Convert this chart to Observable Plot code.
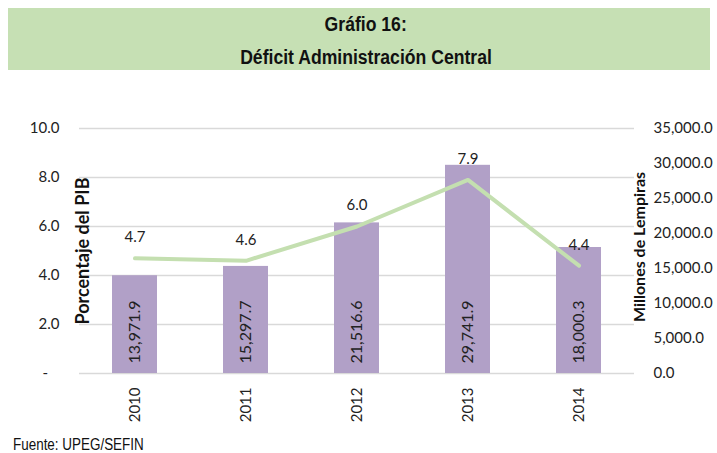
<!DOCTYPE html>
<html>
<head>
<meta charset="utf-8">
<script src="https://cdn.jsdelivr.net/npm/d3@7"></script>
<script src="https://cdn.jsdelivr.net/npm/@observablehq/plot@0.6"></script>
<style>
  body { margin: 0; background: #fff; }
  #wrap { position: relative; width: 717px; height: 453px; overflow: hidden; }
  #title { position: absolute; left: 8px; top: 8px; width: 702px; height: 62px; background: #c6e0b4;
    font-family: "Liberation Sans", Arial, sans-serif; font-weight: bold;
    font-size: 20px; color: #111; text-align: center; line-height: 33px; padding-left: 14px; box-sizing: border-box; }
  .narrow { display: inline-block; transform: scaleX(0.88); transform-origin: center; white-space: nowrap; }
  #chart { position: absolute; left: 0; top: 70px; }
  #foot { position: absolute; left: 13px; top: 436px; font-family: "Liberation Sans", Arial, sans-serif;
    font-size: 16px; color: #111; transform: scaleX(0.84); transform-origin: left; white-space: nowrap; }
</style>
</head>
<body>
<div id="wrap">
  <div id="title"><span class="narrow">Gráfio 16:</span><br><span class="narrow">Déficit Administración Central</span></div>
  <div id="chart"></div>
  <div id="foot">Fuente: UPEG/SEFIN</div>
</div>
<script>
const years = ["2010", "2011", "2012", "2013", "2014"];
const millones = [13971.9, 15297.7, 21516.6, 29741.9, 18000.3];
const pctPIB = [4.7, 4.6, 6.0, 7.9, 4.4];
const leftTicks = [0, 2, 4, 6, 8, 10];
const rightTicks = [0, 5000, 10000, 15000, 20000, 25000, 30000, 35000];
const leftMax = 10;
const rightMax = 35000;

const ratio = rightMax / leftMax;
const rows = years.map((y, i) => ({ year: y, mill: millones[i], millScaled: millones[i] / ratio, pct: pctPIB[i] }));

const font = "Lato, 'Open Sans', sans-serif";
const chart = Plot.plot({
  width: 717,
  height: 360,
  marginTop: 58,
  marginBottom: 57,
  marginLeft: 79,
  marginRight: 83,
  style: { fontFamily: font, fontSize: "14px", color: "#222", background: "transparent" },
  x: { domain: years, paddingInner: 0.595, paddingOuter: 0.2975, label: null },
  y: { domain: [0, leftMax], label: null },
  marks: [
    Plot.gridY(leftTicks, { stroke: "#d9d9d9", strokeOpacity: 1, strokeWidth: 1.5 }),
    Plot.barY(rows, { x: "year", y: "millScaled", fill: "#b1a0c7" }),
    Plot.text(rows, { x: "year", y: 0, text: d => d3.format(",.1f")(d.mill), rotate: -90, textAnchor: "start", dy: -10, fontSize: 16, fill: "#222" }),
    Plot.lineY(rows, { x: "year", y: "pct", stroke: "#c4dfb0", strokeWidth: 4, strokeLinecap: "round", strokeLinejoin: "round" }),
    Plot.text(rows, { x: "year", y: "pct", text: d => d3.format(".1f")(d.pct), dy: -21, fontSize: 15, fill: "#222" }),
    Plot.axisX({ tickSize: 0, tickRotate: -90, tickPadding: 14, fontSize: 15, label: null }),
    Plot.axisY(leftTicks, { anchor: "left", tickSize: 0, tickPadding: 20, fontSize: 15, tickFormat: d => d === 0 ? "-\u00a0\u00a0\u00a0" : d3.format(".1f")(d), label: null }),
    Plot.axisY(rightTicks.map(v => v / ratio), { anchor: "right", tickSize: 0, tickPadding: 19, fontSize: 15, tickFormat: d => d3.format(",.1f")(Math.round(d * ratio)), label: null }),
    Plot.text(["Porcentaje del PIB"], { frameAnchor: "left", textAnchor: "middle", dx: 4, rotate: -90, fontWeight: "bold", fontSize: 18, fill: "#111" }),
    Plot.text(["Millones de Lempiras"], { frameAnchor: "right", textAnchor: "middle", dx: 5, dy: -4, rotate: -90, fontWeight: "bold", fontSize: 16, fill: "#111" })
  ]
});
document.getElementById("chart").appendChild(chart);
</script>
</body>
</html>
